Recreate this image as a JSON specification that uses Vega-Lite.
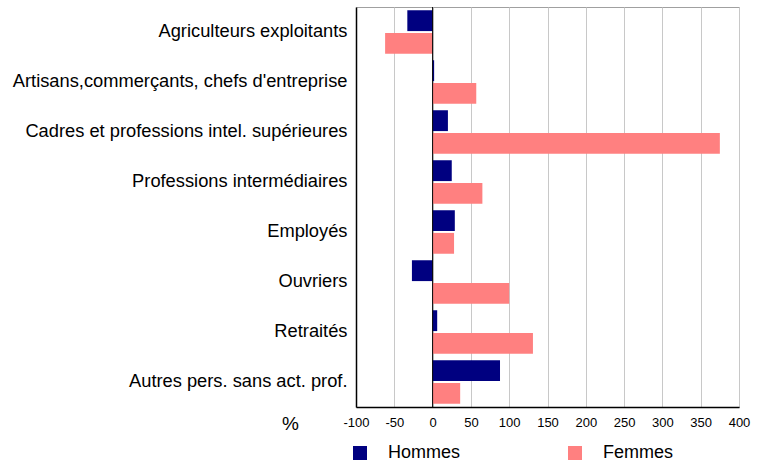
{
  "$schema": "https://vega.github.io/schema/vega-lite/v6.json",
  "width": 383,
  "height": 400,
  "autosize": {"type": "none"},
  "padding": {"left": 356, "top": 7, "right": 23, "bottom": 56},
  "background": "white",
  "config": {
    "font": "Liberation Sans",
    "view": {"stroke": "#a0a0a0", "strokeWidth": 1}
  },
  "data": {
    "values": [
      {"cat": "Agriculteurs exploitants", "sexe": "Hommes", "v": -33},
      {"cat": "Agriculteurs exploitants", "sexe": "Femmes", "v": -62},
      {"cat": "Artisans,commerçants, chefs d'entreprise", "sexe": "Hommes", "v": 2},
      {"cat": "Artisans,commerçants, chefs d'entreprise", "sexe": "Femmes", "v": 57},
      {"cat": "Cadres et professions intel. supérieures", "sexe": "Hommes", "v": 20},
      {"cat": "Cadres et professions intel. supérieures", "sexe": "Femmes", "v": 375},
      {"cat": "Professions intermédiaires", "sexe": "Hommes", "v": 25},
      {"cat": "Professions intermédiaires", "sexe": "Femmes", "v": 65},
      {"cat": "Employés", "sexe": "Hommes", "v": 29},
      {"cat": "Employés", "sexe": "Femmes", "v": 28},
      {"cat": "Ouvriers", "sexe": "Hommes", "v": -27},
      {"cat": "Ouvriers", "sexe": "Femmes", "v": 100},
      {"cat": "Retraités", "sexe": "Hommes", "v": 6},
      {"cat": "Retraités", "sexe": "Femmes", "v": 131},
      {"cat": "Autres pers. sans act. prof.", "sexe": "Hommes", "v": 88},
      {"cat": "Autres pers. sans act. prof.", "sexe": "Femmes", "v": 36}
    ]
  },
  "encoding": {
    "x": {
      "field": "v", "type": "quantitative",
      "scale": {"domain": [-100, 400], "nice": false},
      "axis": {
        "values": [-100, -50, 0, 50, 100, 150, 200, 250, 300, 350, 400],
        "labelExpr": "datum.value < 0 ? '-' + abs(datum.value) : '' + datum.value",
        "title": "%", "titleFontSize": 19, "titleFontWeight": "normal",
        "titleColor": "#000",
        "titleX": -66, "titleY": 16, "titleAlign": "center", "titleBaseline": "middle",
        "ticks": false, "labelPadding": 9, "labelFontSize": 13, "labelColor": "#000",
        "labelFlush": false, "labelOverlap": false,
        "domainColor": "#000", "domainWidth": 1.5,
        "grid": true, "gridColor": "#c8c8c8", "gridWidth": 1
      }
    }
  },
  "layer": [
    {
      "mark": {"type": "bar"},
      "encoding": {
        "y": {
          "field": "cat", "type": "nominal", "sort": null,
          "scale": {"paddingInner": 0.13, "paddingOuter": 0.065},
          "axis": {
            "title": null, "ticks": false, "labelPadding": 9,
            "labelFontSize": 18.3, "labelColor": "#000", "labelLimit": 400,
            "domainColor": "#000", "domainWidth": 1.5
          }
        },
        "yOffset": {
          "field": "sexe", "type": "nominal", "sort": ["Hommes", "Femmes"],
          "scale": {"paddingInner": 0.08}
        },
        "color": {
          "field": "sexe", "type": "nominal",
          "scale": {"domain": ["Hommes", "Femmes"], "range": ["#000080", "#ff8080"]},
          "legend": {
            "title": null, "orient": "none", "direction": "horizontal",
            "legendX": -5, "legendY": 437,
            "symbolType": "square", "symbolSize": 196, "symbolStrokeWidth": 0,
            "symbolOpacity": 1,
            "labelFontSize": 18, "labelColor": "#000", "labelOffset": 19,
            "columnPadding": 105, "padding": 0
          }
        }
      }
    },
    {
      "data": {"values": [{"v": 0}]},
      "mark": {"type": "rule", "color": "#000", "strokeWidth": 1},
      "encoding": {}
    }
  ]
}
